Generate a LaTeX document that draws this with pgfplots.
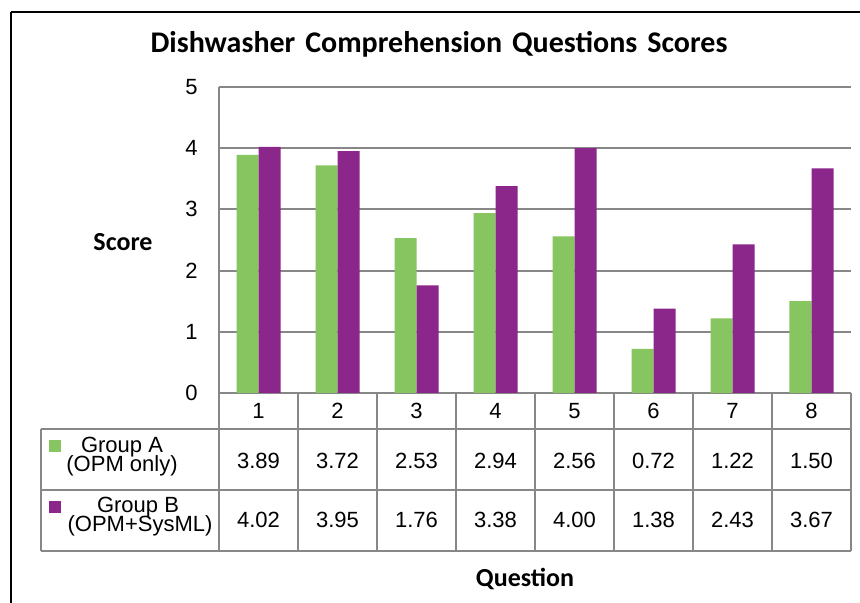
\documentclass[border=0pt]{standalone}
\usepackage{pgfplots}
\pgfplotsset{compat=1.18}
\usepackage{pgfplotstable}
\usepackage{fontspec}
\setmainfont{Liberation Sans}
\newfontfamily\calibri{Carlito}
\definecolor{grpA}{RGB}{134,197,96}
\definecolor{grpB}{RGB}{139,38,139}
\definecolor{gridgray}{RGB}{135,135,135}

\pgfplotstableread{
q A B
1 3.89 4.02
2 3.72 3.95
3 2.53 1.76
4 2.94 3.38
5 2.56 4.00
6 0.72 1.38
7 1.22 2.43
8 1.50 3.67
}\data

\begin{document}
\begin{tikzpicture}[x=0.5pt,y=0.5pt]
\useasboundingbox (0,0) rectangle (860,603);
\fill[white] (0,0) rectangle (860,603);

\begin{axis}[at={(109.5pt,105pt)}, anchor=south west, scale only axis,
  width=316pt, height=153pt,
  xmin=0.5, xmax=8.5, ymin=0, ymax=5,
  ytick={0,1,2,3,4,5}, xtick=\empty,
  ymajorgrids, grid style={gridgray, line width=1pt},
  axis x line*=bottom, axis y line*=left,
  axis line style={gridgray, line width=1pt, -},
  major tick length=0pt,
  ybar=0pt, bar width=11pt,
  tick label style={font=\fontsize{11}{12}\selectfont},
  yticklabel style={inner sep=0pt, xshift=-10.5pt},
  /pgf/number format/assume math mode=true,
  clip=false]
\addplot[fill=grpA, draw=none] table[x=q,y=A]{\data};
\addplot[fill=grpB, draw=none] table[x=q,y=B]{\data};
\end{axis}

\begin{scope}[shift={(0,603)}, yscale=-1]
\draw[line width=1.1pt] (11,12) -- (860,12);
\draw[line width=1.1pt] (11,12) -- (11,603);

\begin{scope}[draw=gridgray, line width=1pt]
\draw (41,429) -- (851,429);
\draw (41,490) -- (851,490);
\draw (41,551) -- (851,551);
\draw (41,429) -- (41,551);
\foreach \k in {0,...,8} \draw ({219+79*\k},393) -- ({219+79*\k},551);
\end{scope}

\begin{scope}[font=\fontsize{11}{12}\selectfont]
\foreach \k in {1,...,8} \node[anchor=base] at ({219+79*(\k-0.5)},419) {\k};
\foreach \k in {0,...,7} {
  \pgfplotstablegetelem{\k}{A}\of\data
  \node[anchor=base] at ({219+79*(\k+0.5)},469) {\pgfplotsretval};
  \pgfplotstablegetelem{\k}{B}\of\data
  \node[anchor=base] at ({219+79*(\k+0.5)},528) {\pgfplotsretval};
}
\fill[grpA] (49,440) rectangle (61,452);
\fill[grpB] (49,501) rectangle (61,513);
\node[anchor=base] at (122,453) {Group A};
\node[anchor=base] at (122,472) {(OPM only)};
\node[anchor=base] at (138,513) {Group B};
\node[anchor=base] at (140,532) {(OPM+SysML)};
\end{scope}

\node[anchor=base, font=\calibri\bfseries\fontsize{15}{17}\selectfont] at (439,53)
  {Dishwasher\hspace{5pt}Comprehension\hspace{5pt}Questions\hspace{5pt}Scores};
\node[anchor=base, font=\calibri\bfseries\fontsize{13}{15}\selectfont] at (123,251) {Score};
\node[anchor=base, font=\calibri\bfseries\fontsize{13}{15}\selectfont] at (525,587) {Question};
\end{scope}
\end{tikzpicture}
\end{document}
